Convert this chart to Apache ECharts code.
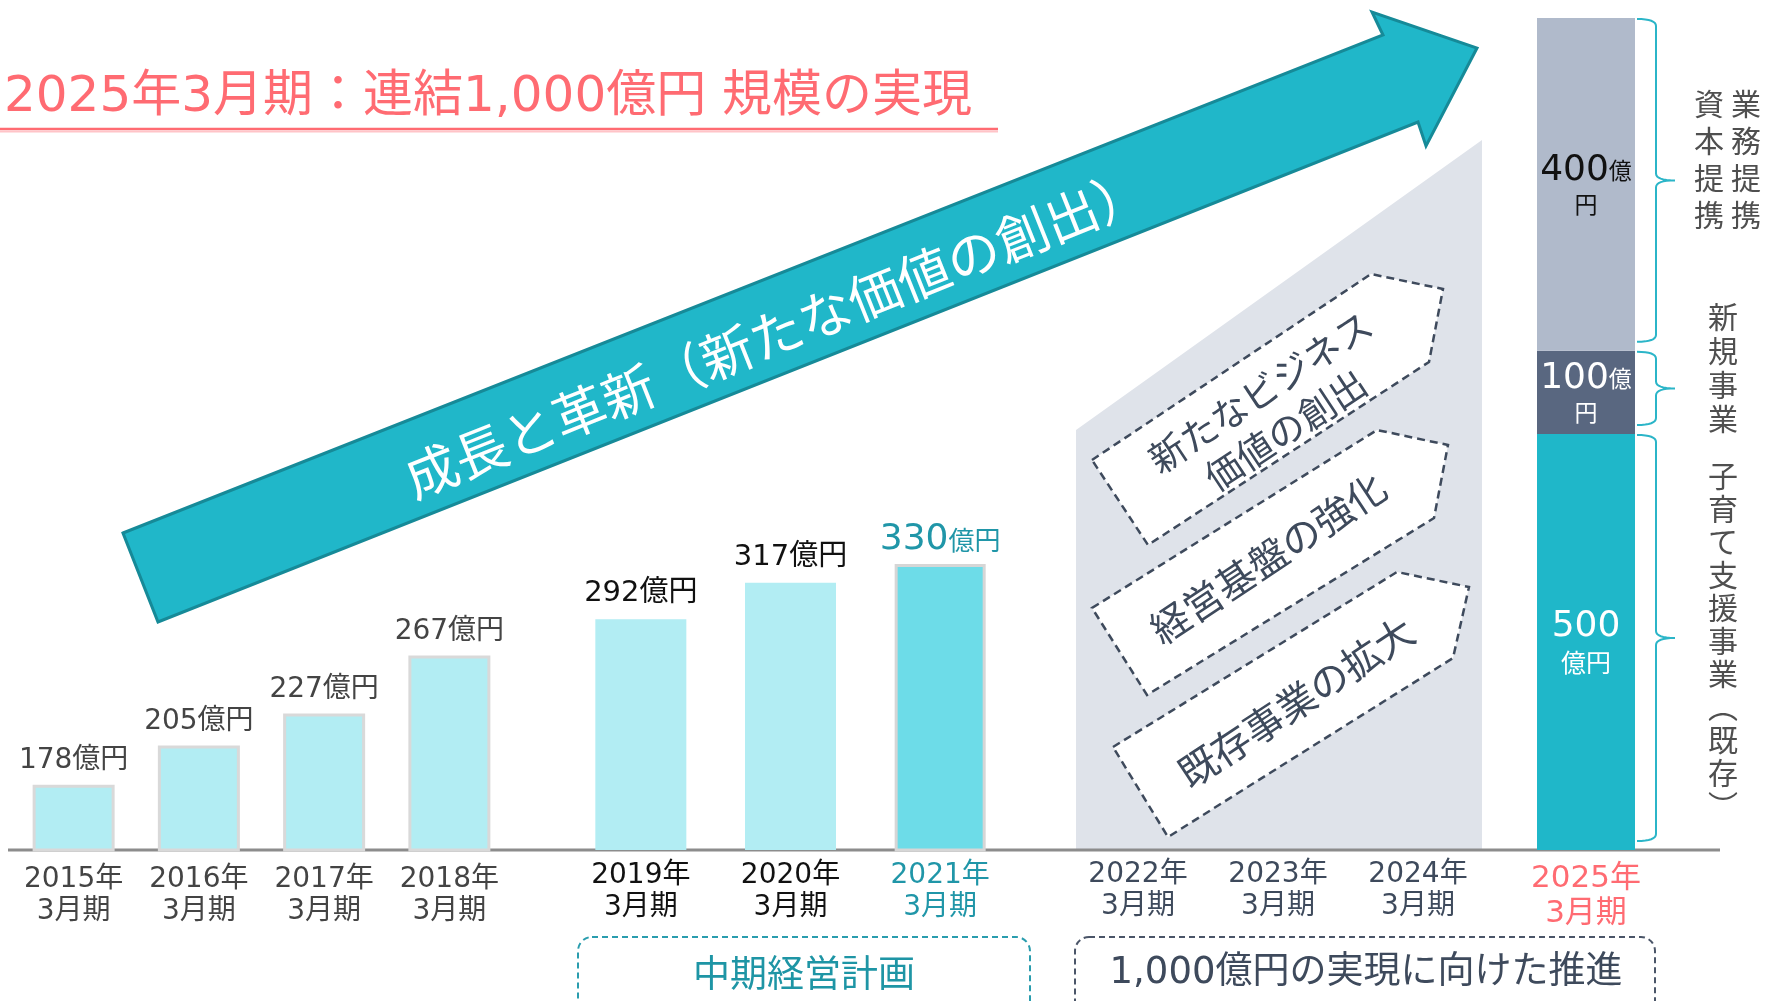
<!DOCTYPE html>
<html lang="ja">
<head>
<meta charset="utf-8">
<title>2025年3月期：連結1,000億円 規模の実現</title>
<script src="https://cdn.jsdelivr.net/npm/echarts@6/dist/echarts.min.js"></script>
<style>
  html, body { margin: 0; padding: 0; background: #fff; }
  #chart { width: 1769px; height: 1001px; }
</style>
</head>
<body>
<div id="chart"></div>
<script>
// 売上高（億円）
const pastYears = ['2015年3月期', '2016年3月期', '2017年3月期', '2018年3月期'];
const pastSales = [178, 205, 227, 267];
// 中期経営計画
const planYears = ['2019年3月期', '2020年3月期', '2021年3月期'];
const planSales = [292, 317, 330];
// 1,000億円の実現に向けた推進
const pushYears = ['2022年3月期', '2023年3月期', '2024年3月期'];
// 2025年3月期 目標の内訳
const targetYear = ['2025年3月期'];
const targetParts = ['子育て支援事業（既存）', '新規事業', '業務提携・資本提携'];
const targetValues = [500, 100, 400];
const targetNotes = [['子育て支援事業（既存）'], ['新規事業'], ['業務提携', '資本提携']];

const FONT = "'DejaVu Sans', 'Noto Sans CJK JP', sans-serif";
const JP = "'Noto Sans CJK JP', sans-serif";
const PINK = '#FF6B72';
const TEAL = '#2096A8';
const SLATE = '#3E4A5C';

const chart = echarts.init(document.getElementById('chart'));

function yearLabel(v) {
  return v.replace('年', '年\n');
}

function catAxis(idx, data, color, margin, size) {
  return {
    type: 'category', gridIndex: idx, data: data,
    axisLine: { show: false }, axisTick: { show: false },
    axisLabel: {
      interval: 0, margin: margin, fontSize: size || 28, lineHeight: (size || 28) + 4,
      fontFamily: FONT, color: color, formatter: yearLabel
    }
  };
}

function valAxis(idx, min, max) {
  return { type: 'value', gridIndex: idx, min: min, max: max, show: false };
}

// 2021年（計画最終年）を強調
const planData = planSales.map(function (v, i) {
  if (i < planSales.length - 1) return v;
  return {
    value: v,
    itemStyle: { color: '#6DDCE8', borderColor: '#D6D6D6', borderWidth: 3 },
    label: {
      formatter: '{a|{c}}{b|億円}',
      distance: 6,
      rich: {
        a: { fontSize: 36, color: TEAL, fontFamily: FONT },
        b: { fontSize: 26, color: TEAL, fontFamily: JP }
      }
    }
  };
});

const segStyle = [
  { color: '#1FB7C9', text: '#fff', fmt: '{a|{c}}\n{b|億円}' },
  { color: '#596780', text: '#fff', fmt: '{a|{c}}{s|億}\n{s|円}' },
  { color: '#B0BACB', text: '#111', fmt: '{a|{c}}{s|億}\n{s|円}' }
];

const targetSeries = targetValues.map(function (v, i) {
  const st = segStyle[i];
  return {
    name: targetParts[i], type: 'bar', stack: 'target',
    xAxisIndex: 3, yAxisIndex: 3, barWidth: '100%',
    data: [v],
    itemStyle: { color: st.color },
    label: {
      show: true, position: 'inside', formatter: st.fmt, color: st.text,
      rich: {
        a: { fontSize: 36, color: st.text, fontFamily: FONT, lineHeight: 40 },
        b: { fontSize: 25, color: st.text, fontFamily: JP, lineHeight: 30 },
        s: { fontSize: 23, color: st.text, fontFamily: JP, lineHeight: 28 }
      }
    }
  };
});

chart.setOption({
  animation: false,
  grid: [
    { left: 11, top: 50, width: 501, height: 800 },
    { left: 566, top: 50, width: 449, height: 800 },
    { left: 1068, top: 50, width: 420, height: 800 },
    { left: 1537, top: 18, width: 98, height: 832 }
  ],
  xAxis: [
    catAxis(0, pastYears, '#444', 14),
    catAxis(1, planYears, '#111', 10),
    catAxis(2, pushYears, SLATE, 9),
    catAxis(3, targetYear, PINK, 11, 31)
  ],
  yAxis: [valAxis(0, 133, 684), valAxis(1, 133, 684), valAxis(2, 133, 684), valAxis(3, 0, 1000)],
  series: [
    {
      type: 'bar', xAxisIndex: 0, yAxisIndex: 0, barWidth: 82, data: pastSales,
      itemStyle: { color: '#B2EDF3', borderColor: '#D9D9D9', borderWidth: 3 },
      label: { show: true, position: 'top', distance: 10, formatter: '{c}億円', color: '#444', fontSize: 28, fontFamily: FONT }
    },
    {
      type: 'bar', xAxisIndex: 1, yAxisIndex: 1, barWidth: 91, data: planData,
      itemStyle: { color: '#B2EDF3' },
      label: { show: true, position: 'top', distance: 11, formatter: '{c}億円', color: '#111', fontSize: 29, fontFamily: FONT }
    },
    { type: 'bar', xAxisIndex: 2, yAxisIndex: 2, data: [] }
  ].concat(targetSeries)
});

// 2021年の軸ラベルだけ色を変える
chart.setOption({
  xAxis: [{}, { axisLabel: { color: function (v, i) { return i === planYears.length - 1 ? TEAL : '#111'; } } }]
});

// 右側の括弧と縦書きの説明
const ys = [0];
targetValues.forEach(function (v) { ys.push(ys[ys.length - 1] + v); });
const py = ys.map(function (v) { return chart.convertToPixel({ yAxisIndex: 3 }, v); });

// 二次ベジェを折れ線で近似
function quad(p0, c, p1, out) {
  for (let t = 0; t <= 1.0001; t += 0.125) {
    const u = 1 - t;
    out.push([u * u * p0[0] + 2 * u * t * c[0] + t * t * p1[0], u * u * p0[1] + 2 * u * t * c[1] + t * t * p1[1]]);
  }
}

function brace(top, bottom) {
  const xs = 1637, xv = 1656, xt = 1675, m = (top + bottom) / 2, k = 7;
  const pts = [];
  quad([xs, top], [xv, top], [xv, top + k], pts);
  quad([xv, m - k], [xv, m], [xt, m], pts);
  quad([xt, m], [xv, m], [xv, m + k], pts);
  quad([xv, bottom - k], [xv, bottom], [xs, bottom], pts);
  return pts;
}

const braces = [];
const notes = [];
let prevEnd = -Infinity;
// 上から順に並べる（index 2 → 0）
for (let i = targetValues.length - 1; i >= 0; i--) {
  const top = py[i + 1] + 1, bottom = py[i] - 9;
  braces.push({
    type: 'polyline', z: 5,
    shape: { points: brace(top, bottom) },
    style: { fill: null, stroke: '#2BB5C8', lineWidth: 2 }
  });
  const cols = targetNotes[i];
  const n = Array.from(cols[0]).length;
  const lh = n <= 4 && cols.length > 1 ? 37 : n <= 4 ? 34 : 33;
  const h = n * lh;
  const c = Math.max((top + bottom) / 2 - (n <= 4 ? 21 : 0), prevEnd + 24 + h / 2);
  cols.forEach(function (t, k) {
    const vert = Array.from(t).map(function (ch) { return ch === '（' ? '︵' : ch === '）' ? '︶' : ch; });
    const x = cols.length > 1 ? 1746 - k * 37 : 1723;
    notes.push({
      type: 'text', x: x, y: c, z: 5,
      style: { text: vert.join('\n'), fill: '#4F4F4F', font: '30px ' + JP, lineHeight: lh, align: 'center', verticalAlign: 'middle' }
    });
  });
  prevEnd = c + h / 2;
}

function rotText(x, y, deg, text, size, color, lh) {
  return {
    type: 'text', x: x, y: y, rotation: deg * Math.PI / 180, z: 4,
    style: { text: text, fill: color, font: size + 'px ' + JP, lineHeight: lh || size, align: 'center', verticalAlign: 'middle' }
  };
}

function dashedBox(points) {
  return {
    type: 'polygon', z: 2, shape: { points: points },
    style: { fill: '#fff', stroke: SLATE, lineWidth: 2.5, lineDash: [8, 5] }
  };
}

const graphics = [
  // タイトル
  { type: 'text', x: 4, y: 98, z: 3, style: { text: '2025年3月期：連結1,000億円 規模の実現', fill: PINK, font: '50px ' + FONT, verticalAlign: 'middle' } },
  { type: 'line', z: 3, shape: { x1: 0, y1: 129, x2: 998, y2: 129 }, style: { stroke: PINK, lineWidth: 2.5 } },
  { type: 'line', z: 3, shape: { x1: 0, y1: 131.5, x2: 998, y2: 131.5 }, style: { stroke: '#FFC4C8', lineWidth: 2 } },
  // 成長の矢印
  {
    type: 'polygon', z: 3,
    shape: { points: [[123, 533], [1383, 35], [1372, 12], [1477, 48], [1426, 146], [1418, 122], [158, 622]] },
    style: { fill: '#20B7C9', stroke: '#168A98', lineWidth: 3, lineJoin: 'miter' }
  },
  rotText(776, 333, 21.8, '成長と革新（新たな価値の創出）', 53, '#fff'),
  // 推進期間の背景
  { type: 'polygon', z: 0, shape: { points: [[1076, 430], [1482, 140], [1482, 849], [1076, 849]] }, style: { fill: '#DFE3EA' } },
  dashedBox([[1092, 460], [1371, 274], [1443, 289], [1429, 362], [1148, 545]]),
  dashedBox([[1092, 608], [1377, 430], [1448, 445], [1434, 518], [1147, 695]]),
  dashedBox([[1113, 747], [1397, 572], [1469, 587], [1453, 658], [1168, 837]]),
  rotText(1273, 411, 33.5, '新たなビジネス\n価値の創出', 37, SLATE, 46),
  rotText(1268, 558, 33.5, '経営基盤の強化', 39, SLATE),
  rotText(1296, 702, 33.5, '既存事業の拡大', 39, SLATE),
  // 基準線
  { type: 'line', z: 1, shape: { x1: 8, y1: 850, x2: 1720, y2: 850 }, style: { stroke: '#8C8C8C', lineWidth: 3 } },
  // 期間の枠
  { type: 'rect', z: 3, shape: { x: 578, y: 937, width: 452, height: 90, r: 14 }, style: { fill: 'none', stroke: '#2A9DAE', lineWidth: 2, lineDash: [6, 4] } },
  { type: 'text', x: 804, y: 973, z: 3, style: { text: '中期経営計画', fill: '#1E95A5', font: '37px ' + JP, align: 'center', verticalAlign: 'middle' } },
  { type: 'rect', z: 3, shape: { x: 1075, y: 937, width: 580, height: 90, r: 14 }, style: { fill: 'none', stroke: '#4A5568', lineWidth: 2, lineDash: [6, 4] } },
  { type: 'text', x: 1366, y: 973, z: 3, style: { text: '1,000億円の実現に向けた推進', fill: SLATE, font: '37px ' + FONT, align: 'center', verticalAlign: 'middle' } }
].concat(braces, notes);

chart.setOption({ graphic: graphics });
</script>
</body>
</html>
